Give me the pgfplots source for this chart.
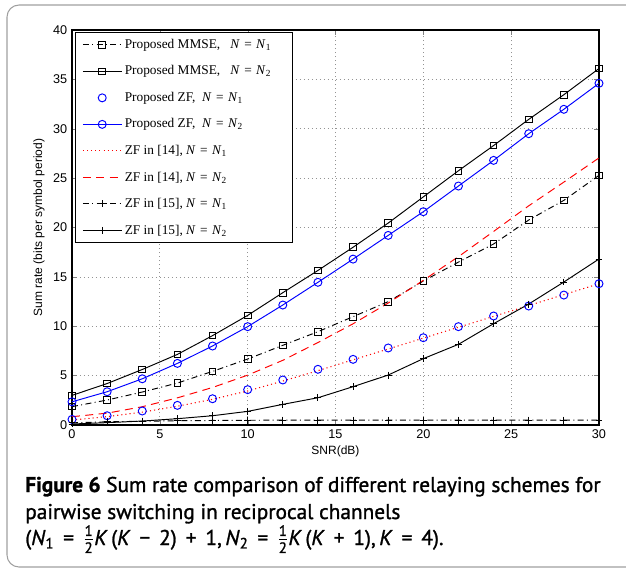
\documentclass[border=0pt]{standalone}
\usepackage{amsmath}
\usepackage{pgfplots}
\pgfplotsset{compat=1.18}
\usepackage{fontspec}
\setmainfont{Liberation Serif}
\newfontfamily\ticksf{Liberation Sans}
\newfontfamily\capfont[FakeBold=1.2]{PT Sans}
\newcommand\op[1]{\hspace{0.42em}#1\hspace{0.42em}}

\pgfplotstableread{
snr mmse2 zf2 mmse1 zfc1 red1 red2 p2 p1
0  3.00 2.35 1.86 0.57 0.50 0.84 0.10 0.22
2  4.20 3.37 2.53 0.94 0.85 1.20 0.24 0.32
4  5.62 4.68 3.34 1.42 1.30 1.85 0.40 0.38
6  7.15 6.24 4.25 1.99 1.90 2.75 0.64 0.43
8  9.05 8.00 5.43 2.66 2.60 3.80 0.94 0.46
10 11.10 9.96 6.68 3.58 3.45 5.05 1.38 0.48
12 13.40 12.15 8.07 4.56 4.45 6.55 2.09 0.49
14 15.65 14.45 9.45 5.64 5.50 8.35 2.76 0.50
16 18.00 16.80 10.97 6.65 6.60 10.25 3.88 0.50
18 20.45 19.20 12.49 7.80 7.70 12.35 5.06 0.50
20 23.10 21.60 14.58 8.84 8.80 14.65 6.72 0.50
22 25.75 24.20 16.50 9.96 9.90 17.05 8.17 0.50
24 28.30 26.80 18.33 11.04 11.00 19.60 10.26 0.50
26 30.95 29.50 20.76 12.05 12.10 22.20 12.25 0.50
28 33.45 31.97 22.75 13.16 13.20 24.60 14.48 0.50
30 36.10 34.60 25.28 14.31 14.30 27.05 16.81 0.50
}\datatable

\begin{document}
\begin{tikzpicture}
\useasboundingbox (0pt,0pt) rectangle (469.5pt,-426.75pt);
\begin{scope}[x=0.75pt,y=-0.75pt]
  \draw[gray!75, line width=0.8pt, rounded corners=9pt] (7,5) rectangle (660,567);
  \node[anchor=base west, inner sep=0pt, font=\capfont\fontsize{16}{19}\selectfont] at (25,492)
    {\textbf{Figure 6} Sum rate comparison of different relaying schemes for};
  \node[anchor=base west, inner sep=0pt, font=\capfont\fontsize{16}{19}\selectfont] at (25,519)
    {pairwise switching in reciprocal channels};
  \node[anchor=base west, inner sep=0pt, font=\capfont\fontsize{16}{19}\selectfont] at (25,545)
    {(\textit{N}\textsubscript{1}\op{=}$\frac{\text{1}}{\text{2}}$\textit{K}\,(\textit{K}\op{−}2)\op{+}1,\,\textit{N}\textsubscript{2}\op{=}$\frac{\text{1}}{\text{2}}$\textit{K}\,(\textit{K}\op{+}1),\,\textit{K}\op{=}4).};
\end{scope}
\begin{axis}[
  at={(54pt,-318.75pt)}, anchor=south west,
  scale only axis, width=395.25pt, height=296.25pt,
  xmin=0, xmax=30, ymin=0, ymax=40,
  xtick={0,5,...,30}, ytick={0,5,...,40},
  tick align=inside, major tick length=3.5pt,
  axis line style={line width=0.8pt},
  grid=major,
  major grid style={dash pattern=on 0.6pt off 2.4pt, gray!85, line width=0.5pt},
  /pgf/number format/assume math mode=true,
  ticklabel style={font=\ticksf\fontsize{9.5}{11}\selectfont},
  xlabel={SNR(dB)}, ylabel={Sum rate (bits per symbol period)},
  every axis x label/.style={at={(axis description cs:0.5,-0.066)}, anchor=center, font=\ticksf\fontsize{9}{11}\selectfont},
  every axis y label/.style={at={(axis description cs:-0.0626,0.5)}, rotate=90, anchor=center, font=\ticksf\fontsize{9}{11}\selectfont},
  legend style={at={(axis description cs:0.006,0.995)}, anchor=north west,
    font=\fontsize{10}{11}\selectfont, draw=black, line width=0.8pt, row sep=7.45pt,
    inner xsep=5pt, inner ysep=3pt, cells={anchor=west}},
  legend image code/.code={\draw[mark repeat=2,mark phase=2] plot coordinates {(0pt,0pt)(14.5pt,0pt)(29pt,0pt)};},
  every axis plot/.append style={line width=0.72pt},
]
\addplot[black, dash pattern=on 4.5pt off 2.5pt on 0.75pt off 2.5pt, mark=square, mark size=2.5pt, mark options={solid}] table[x=snr,y=mmse1] {\datatable};
\addlegendentry{Proposed MMSE,\ \ \ \textit{N}\,\,=\,\,\textit{N}\textsubscript{1}\hspace*{9pt}}
\addplot[black, solid, mark=square, mark size=2.5pt] table[x=snr,y=mmse2] {\datatable};
\addlegendentry{Proposed MMSE,\ \ \ \textit{N}\,\,=\,\,\textit{N}\textsubscript{2}}
\addplot[blue, only marks, mark=o, mark size=3pt] table[x=snr,y=zfc1] {\datatable};
\addlegendentry{Proposed ZF,\ \ \textit{N}\,\,=\,\,\textit{N}\textsubscript{1}}
\addplot[blue, solid, mark=o, mark size=3pt] table[x=snr,y=zf2] {\datatable};
\addlegendentry{Proposed ZF,\ \ \textit{N}\,\,=\,\,\textit{N}\textsubscript{2}}
\addplot[red, line width=0.8pt, dash pattern=on 0.8pt off 2.3pt, no marks] table[x=snr,y=red1] {\datatable};
\addlegendentry{ZF in [14], \textit{N}\,\,=\,\,\textit{N}\textsubscript{1}}
\addplot[red, dash pattern=on 6pt off 4pt, no marks] table[x=snr,y=red2] {\datatable};
\addlegendentry{ZF in [14], \textit{N}\,\,=\,\,\textit{N}\textsubscript{2}}
\addplot[black, dash pattern=on 4.5pt off 2.5pt on 0.75pt off 2.5pt, mark=+, mark size=2.6pt, mark options={solid}] table[x=snr,y=p1] {\datatable};
\addlegendentry{ZF in [15], \textit{N}\,\,=\,\,\textit{N}\textsubscript{1}}
\addplot[black, solid, mark=+, mark size=2.6pt] table[x=snr,y=p2] {\datatable};
\addlegendentry{ZF in [15], \textit{N}\,\,=\,\,\textit{N}\textsubscript{2}}
\end{axis}
\end{tikzpicture}
\end{document}
